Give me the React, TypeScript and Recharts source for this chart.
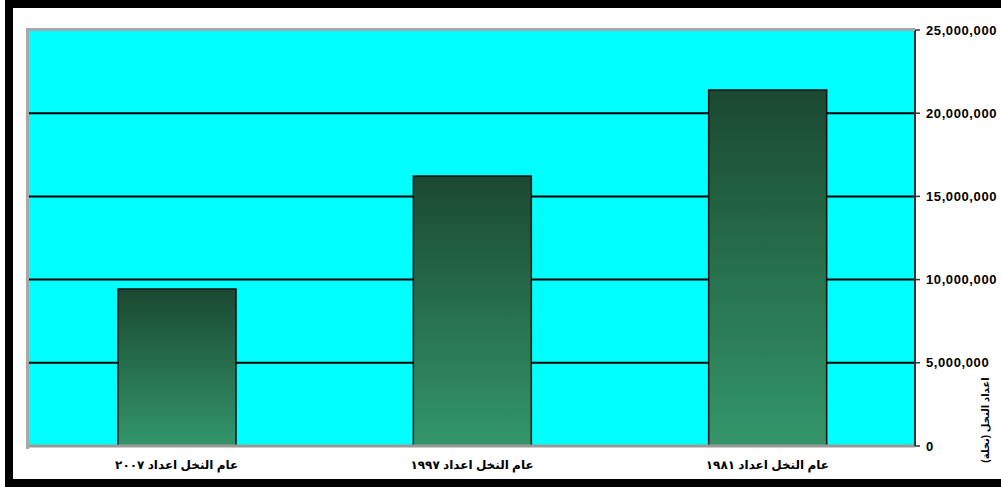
import React from "react";
import { BarChart, Bar, XAxis, YAxis, CartesianGrid } from "recharts";

const categories = ["عام النخل اعداد ٢٠٠٧", "عام النخل اعداد ١٩٩٧", "عام النخل اعداد ١٩٨١"];
const palmCounts = [9430000, 16230000, 21390000];
const yTicks = [0, 5000000, 10000000, 15000000, 20000000, 25000000];
const yTitle = "اعداد النخل (نخلة)";

const data = categories.map((name, i) => ({ name, palms: palmCounts[i] }));

const font = "'Liberation Sans', Arial, 'DejaVu Sans', sans-serif";

function YTitle(props: any) {
  const vb = props.viewBox || {};
  const x = vb.x + 70;
  const y = vb.y + vb.height - 26;
  return (
    <text
      x={x}
      y={y}
      transform={`rotate(-90 ${x} ${y})`}
      textAnchor="middle"
      dominantBaseline="central"
      fontSize={10}
      fontWeight="bold"
      fontFamily={font}
      fill="#000"
    >
      {yTitle}
    </text>
  );
}

export default function App() {
  return (
    <div style={{ position: "absolute", left: 0, top: 0, width: 1001, height: 487, overflow: "hidden", background: "#fff" }}>
      <div
        style={{
          position: "absolute",
          left: 5,
          top: 0,
          width: 1040,
          height: 487,
          boxSizing: "border-box",
          border: "8px solid #000",
        }}
      />
      <div style={{ position: "absolute", left: 0, top: 0 }}>
        <BarChart
          width={1001}
          height={487}
          data={data}
          margin={{ top: 30, right: 1, bottom: 11, left: 29 }}
          barCategoryGap="30%"
        >
          <defs>
            <linearGradient id="palmGrad" x1="0" y1="0" x2="0" y2="1">
              <stop offset="0%" stopColor="#1b4931" />
              <stop offset="100%" stopColor="#33966a" />
            </linearGradient>
          </defs>
          <CartesianGrid fill="#00ffff" vertical={false} stroke="#000" strokeWidth={2} strokeOpacity={1} />
          <XAxis
            dataKey="name"
            height={30}
            axisLine={{ stroke: "#999", strokeWidth: 3 }}
            tickLine={false}
            tick={{ fontSize: 12, fontWeight: "bold", fill: "#000", fontFamily: font }}
            tickMargin={8}
          />
          <YAxis
            orientation="right"
            width={85}
            domain={[0, 25000000]}
            ticks={yTicks}
            interval={0}
            axisLine={{ stroke: "#333", strokeWidth: 2 }}
            tickLine={{ stroke: "#333", strokeWidth: 1.5 }}
            tickSize={5}
            tickMargin={6}
            tickFormatter={(v: number) => v.toLocaleString("en-US")}
            tick={{ fontSize: 13, fontWeight: "bold", fill: "#000", fontFamily: font, letterSpacing: 0.6 }}
            label={<YTitle />}
          />
          <Bar
            dataKey="palms"
            barSize={118}
            fill="url(#palmGrad)"
            stroke="#111"
            strokeWidth={1.5}
            isAnimationActive={false}
          />
        </BarChart>
      </div>
      <div
        style={{
          position: "absolute",
          left: 26,
          top: 28,
          width: 889,
          height: 421,
          boxSizing: "border-box",
          borderTop: "3px solid #a8a8a8",
          borderLeft: "3px solid #a8a8a8",
          pointerEvents: "none",
        }}
      />
    </div>
  );
}
